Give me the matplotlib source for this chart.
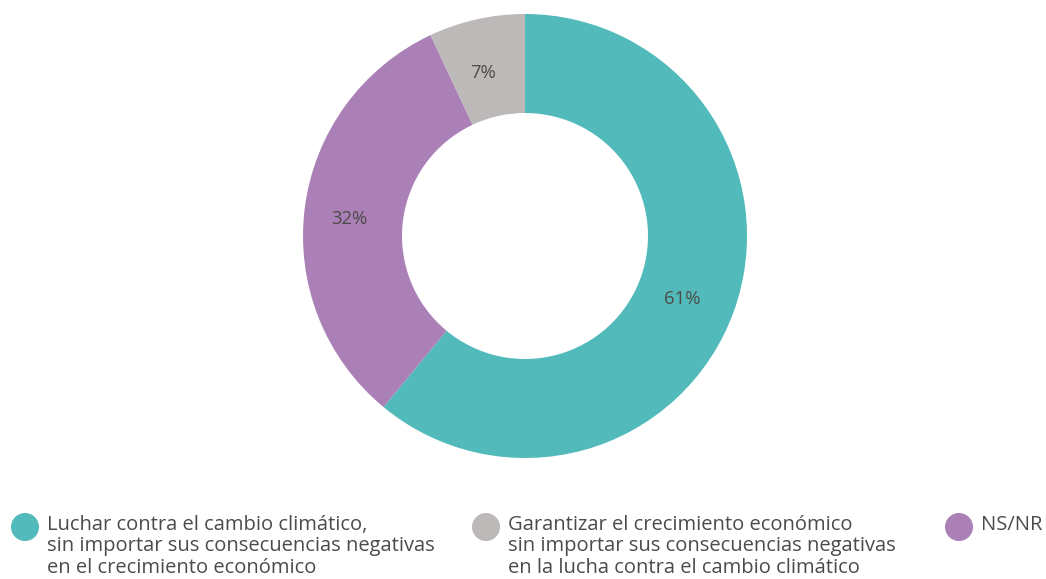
import matplotlib.pyplot as plt
import numpy as np
from matplotlib.patches import Circle

# data, drawn clockwise from 12 o'clock
valores = [61, 32, 7]
etiquetas = ['61%', '32%', '7%']
colores = ['#52baba', '#ab80b7', '#bcb9b8']

leyenda = [
    'Luchar contra el cambio climático,\nsin importar sus consecuencias negativas\nen el crecimiento económico',
    'Garantizar el crecimiento económico\nsin importar sus consecuencias negativas\nen la lucha contra el cambio climático',
    'NS/NR',
]
leyenda_colores = ['#52baba', '#bcb9b8', '#ab80b7']

plt.rcParams['font.family'] = ['Open Sans', 'DejaVu Sans']
texto = '#4f4a4a'

W, H = 1046, 579
fig = plt.figure(figsize=(W / 100, H / 100), dpi=100)

cx, cy, r = 525, 236, 222
ax = fig.add_axes([(cx - r) / W, (H - cy - r) / H, 2 * r / W, 2 * r / H])
wedges, _ = ax.pie(valores, colors=colores, startangle=90, counterclock=False,
                   radius=1, wedgeprops=dict(width=0.446, edgecolor='none'))
ax.set_xlim(-1, 1)
ax.set_ylim(-1, 1)
ax.set_aspect('equal')
ax.axis('off')

ang = 90
for v, et in zip(valores, etiquetas):
    mid = np.deg2rad(ang - v * 3.6 / 2)
    ax.text(0.775 * np.cos(mid) - 0.022, 0.775 * np.sin(mid) - 0.022, et,
            ha='center', va='center', fontsize=13.3, color=texto)
    ang -= v * 3.6

# legend drawn by hand in pixel coords
lax = fig.add_axes([0, 0, 1, 1])
lax.set_xlim(0, W)
lax.set_ylim(H, 0)
lax.axis('off')
xs = [25, 486, 959]
for x, t, c in zip(xs, leyenda, leyenda_colores):
    lax.add_patch(Circle((x, 527), 14, color=c, lw=0))
    lax.text(x + 22, 515, t, ha='left', va='top', fontsize=14.5, color=texto,
             linespacing=1.1)

fig.savefig('out.png', dpi=100)
